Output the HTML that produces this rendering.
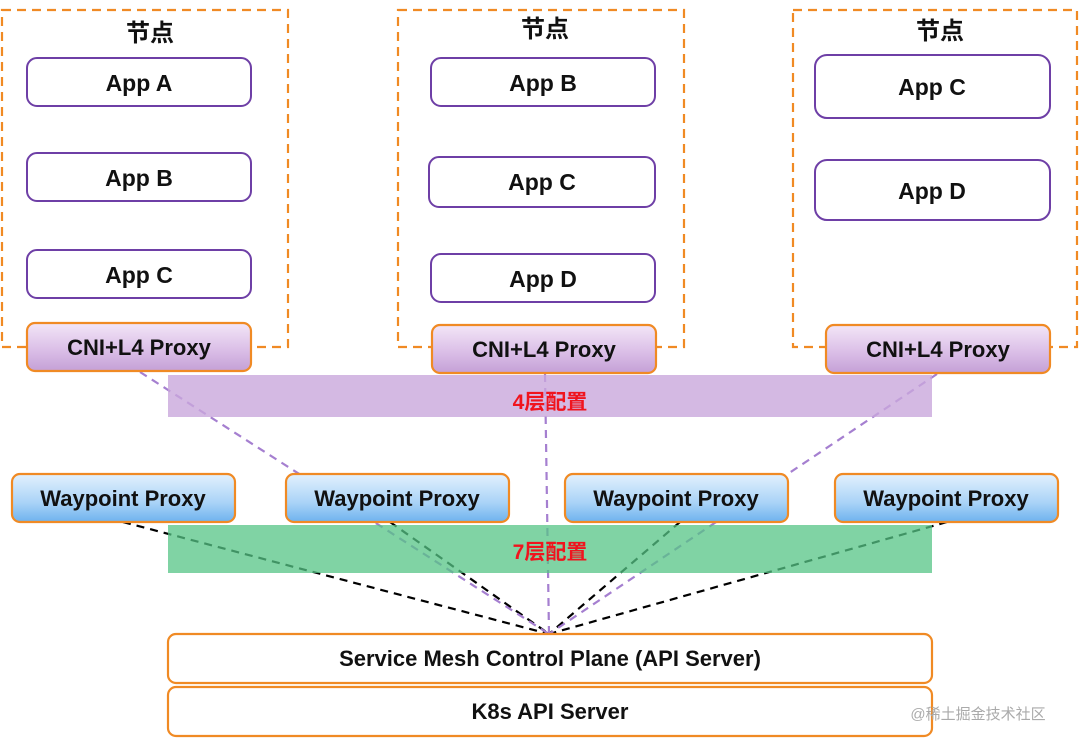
<!DOCTYPE html>
<html><head><meta charset="utf-8"><style>
html,body{margin:0;padding:0;background:#fff;width:1080px;height:744px;overflow:hidden}
text{font-family:"Liberation Sans","Noto Sans CJK SC",sans-serif}
</style></head><body>
<svg width="1080" height="744" viewBox="0 0 1080 744" xmlns="http://www.w3.org/2000/svg">
<defs>
<linearGradient id="pg" x1="0" y1="0" x2="0" y2="1"><stop offset="0" stop-color="#f3e6f7"/><stop offset="0.6" stop-color="#d9bce6"/><stop offset="1" stop-color="#c4a0d6"/></linearGradient>
<linearGradient id="bg" x1="0" y1="0" x2="0" y2="1"><stop offset="0" stop-color="#e3f1fd"/><stop offset="0.6" stop-color="#a9d3f7"/><stop offset="1" stop-color="#6eb2ee"/></linearGradient>
</defs>
<g fill="none" stroke="#f08a24" stroke-width="2.2" stroke-dasharray="9,6">
<rect x="2" y="10" width="286" height="337"/>
<rect x="398" y="10" width="286" height="337"/>
<rect x="793" y="10" width="284" height="337"/>
</g>
<g font-size="24" font-weight="bold" text-anchor="middle" fill="#111">
<text x="150" y="41">节点</text><text x="545" y="37">节点</text><text x="940" y="39">节点</text>
</g>
<g fill="#fff" stroke="#6e3fa6" stroke-width="2">
<rect x="27" y="58" width="224" height="48" rx="10"/>
<rect x="27" y="153" width="224" height="48" rx="10"/>
<rect x="27" y="250" width="224" height="48" rx="10"/>
<rect x="431" y="58" width="224" height="48" rx="10"/>
<rect x="429" y="157" width="226" height="50" rx="10"/>
<rect x="431" y="254" width="224" height="48" rx="10"/>
<rect x="815" y="55" width="235" height="63" rx="12"/>
<rect x="815" y="160" width="235" height="60" rx="12"/>
</g>
<g font-size="23" font-weight="bold" text-anchor="middle" fill="#111">
<text x="139" y="91">App A</text><text x="139" y="186">App B</text><text x="139" y="283">App C</text>
<text x="543" y="91">App B</text><text x="542" y="190">App C</text><text x="543" y="287">App D</text>
<text x="932" y="95">App C</text><text x="932" y="199">App D</text>
</g>
<g stroke="#000" stroke-width="2.2" stroke-dasharray="8,6" fill="none">
<line x1="123" y1="522" x2="549" y2="634"/>
<line x1="390" y1="522" x2="549" y2="634"/>
<line x1="680" y1="522" x2="549" y2="634"/>
<line x1="947" y1="522" x2="549" y2="634"/>
</g>
<g stroke="#a57fd0" stroke-width="2.2" stroke-dasharray="8,6" fill="none">
<line x1="140" y1="372" x2="549" y2="634"/>
<line x1="545" y1="374" x2="549" y2="634"/>
<line x1="937" y1="374" x2="549" y2="634"/>
</g>
<rect x="168" y="375" width="764" height="42" fill="#c9a7dc" opacity="0.8"/>
<rect x="168" y="525" width="764" height="48" fill="#55c486" opacity="0.75"/>
<g font-size="21" font-weight="bold" text-anchor="middle" fill="#f0141e">
<text x="550" y="409">4层配置</text><text x="550" y="559">7层配置</text>
</g>
<g stroke="#f08a24" stroke-width="2.2">
<rect x="27" y="323" width="224" height="48" rx="8" fill="url(#pg)"/>
<rect x="432" y="325" width="224" height="48" rx="8" fill="url(#pg)"/>
<rect x="826" y="325" width="224" height="48" rx="8" fill="url(#pg)"/>
<rect x="12" y="474" width="223" height="48" rx="8" fill="url(#bg)"/>
<rect x="286" y="474" width="223" height="48" rx="8" fill="url(#bg)"/>
<rect x="565" y="474" width="223" height="48" rx="8" fill="url(#bg)"/>
<rect x="835" y="474" width="223" height="48" rx="8" fill="url(#bg)"/>
<rect x="168" y="634" width="764" height="49" rx="8" fill="#fff"/>
<rect x="168" y="687" width="764" height="49" rx="8" fill="#fff"/>
</g>
<g font-size="22" font-weight="bold" text-anchor="middle" fill="#111">
<text x="139" y="355">CNI+L4 Proxy</text><text x="544" y="357">CNI+L4 Proxy</text><text x="938" y="357">CNI+L4 Proxy</text>
<text x="123" y="506">Waypoint Proxy</text><text x="397" y="506">Waypoint Proxy</text><text x="676" y="506">Waypoint Proxy</text><text x="946" y="506">Waypoint Proxy</text>
<text x="550" y="666">Service Mesh Control Plane (API Server)</text>
<text x="550" y="719">K8s API Server</text>
</g>
<text x="978" y="719" font-size="15" text-anchor="middle" fill="#aaa">@稀土掘金技术社区</text>
</svg>
</body></html>
